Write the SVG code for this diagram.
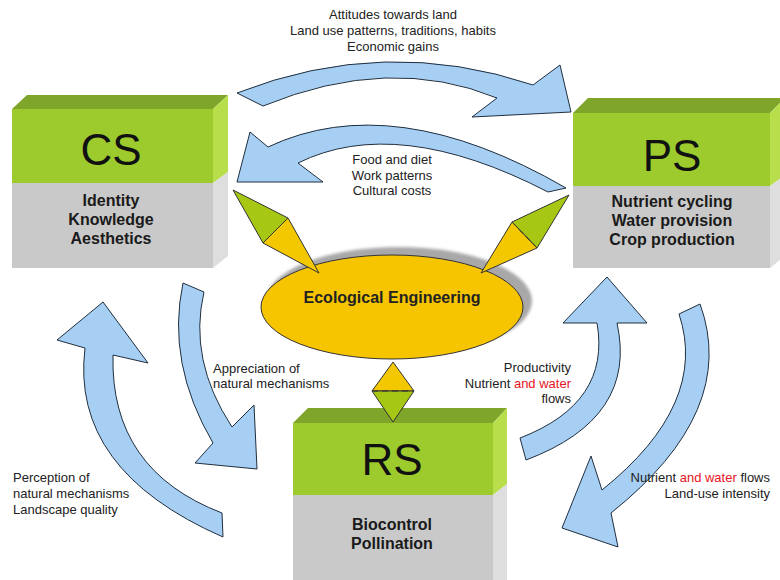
<svg xmlns="http://www.w3.org/2000/svg" width="780" height="580" viewBox="0 0 780 580">
  <defs>
    <style>
      .lbl { font-family: "Liberation Sans", Arial, sans-serif; font-size: 13px; fill: #222; }
      .red { fill: #e8141e; }
      .title { font-family: "Liberation Sans", Arial, sans-serif; font-size: 44px; fill: #111; text-anchor: middle; }
      .item { font-family: "Liberation Sans", Arial, sans-serif; font-size: 16px; font-weight: bold; fill: #1a1a1a; text-anchor: middle; }
      .flow { fill: #a7cff3; stroke: #1f2f3f; stroke-width: 1; stroke-linejoin: miter; }
      .gTop { fill: #7fa52a; }
      .gFront { fill: #9dcb2e; }
      .gSide { fill: #b8de4c; }
      .sFront { fill: #c9c9c9; }
      .sSide { fill: #dedede; }
      .kGreen { fill: #a6c814; stroke: #333; stroke-width: 1; }
      .kGold { fill: #f3c800; stroke: #333; stroke-width: 1; }
      .dash { stroke: #333; stroke-width: 1; stroke-dasharray: 6 4; fill: none; }
    </style>
    <filter id="soft" x="-10%" y="-10%" width="120%" height="120%">
      <feGaussianBlur stdDeviation="1.5"/>
    </filter>
  </defs>

  <rect width="780" height="580" fill="#ffffff"/>

  <!-- flow arrows -->
  <g id="connectors">
    <!-- CS to PS (top) -->
    <path class="flow" d="M237,93 Q385,35 533,85 L560,65 L571,112 L472,117 L497,98 Q390,54 263,106 Z"/>
    <!-- PS to CS -->
    <path class="flow" d="M268,147 Q393,88 566,188 L548,192 Q397,114 298,163 L323,182 L237,182 L250,132 Z"/>
    <!-- CS to RS -->
    <path class="flow" d="M183,283 Q166,363 213,443 L195,463 L257,469 L254,405 L232,427 Q188,360 204,292 Z"/>
    <!-- RS to CS -->
    <path class="flow" d="M85,348 Q70,470 223,537 L222,513 Q110,470 113,355 L148,363 L103,302 L57,340 Z"/>
    <!-- RS to PS -->
    <path class="flow" d="M597,323 Q611,403 520,438 L526,460 Q638,418 617,323 L647,323 L607,277 L563,323 Z"/>
    <!-- PS to RS -->
    <path class="flow" d="M679,314 Q709,404 602,490 L591,456 L562,528 L618,547 L611,513 Q739,411 700,304 Z"/>
  </g>

  <!-- CS box -->
  <g id="cs">
    <polygon class="gTop" points="12,109 27,95 228,95 213,109"/>
    <rect class="gFront" x="12" y="109" width="201" height="74"/>
    <rect class="sFront" x="12" y="183" width="201" height="85"/>
    <polygon class="gSide" points="213,109 228,95 228,172 213,183"/>
    <polygon class="sSide" points="213,183 228,172 228,256 213,268"/>
    <text class="title" x="111" y="165">CS</text>
    <text class="item" x="111" y="206">Identity</text>
    <text class="item" x="111" y="225">Knowledge</text>
    <text class="item" x="111" y="244">Aesthetics</text>
  </g>

  <!-- PS box -->
  <g id="ps">
    <polygon class="gTop" points="573,113 588,98 785,98 770,113"/>
    <rect class="gFront" x="573" y="113" width="197" height="73"/>
    <rect class="sFront" x="573" y="186" width="197" height="82"/>
    <polygon class="gSide" points="770,113 785,98 785,175 770,186"/>
    <polygon class="sSide" points="770,186 785,175 785,256 770,268"/>
    <text class="title" x="672" y="171">PS</text>
    <text class="item" x="672" y="207">Nutrient cycling</text>
    <text class="item red" x="672" y="226">Water provision</text>
    <text class="item" x="672" y="245">Crop production</text>
  </g>

  <!-- RS box -->
  <g id="rs">
    <polygon class="gTop" points="293,423 308,408 507,408 493,423"/>
    <rect class="gFront" x="293" y="423" width="200" height="72"/>
    <rect class="sFront" x="293" y="495" width="200" height="85"/>
    <polygon class="gSide" points="493,423 507,408 507,484 493,495"/>
    <polygon class="sSide" points="493,495 507,484 507,580 493,580"/>
    <text class="title" x="392" y="475">RS</text>
    <text class="item" x="392" y="530">Biocontrol</text>
    <text class="item" x="392" y="549">Pollination</text>
  </g>

  <!-- Ecological Engineering hub -->
  <g id="ee">
    <ellipse cx="399" cy="301" rx="133" ry="54" fill="#a8a8a8" filter="url(#soft)"/>
    <ellipse cx="392" cy="307" rx="131" ry="52" fill="#f7c500" stroke="#333" stroke-width="1"/>
    <text x="392" y="303" text-anchor="middle" font-family="'Liberation Sans', Arial, sans-serif" font-size="16" font-weight="bold" fill="#222">Ecological Engineering</text>
  </g>

  <!-- links from the hub to the boxes -->
  <g id="link-cs">
    <polygon class="kGreen" points="233,190 288,218 263,243"/>
    <polygon class="kGold" points="288,218 319,273 263,243"/>
    <line class="dash" x1="288" y1="218" x2="263" y2="243"/>
  </g>
  <g id="link-ps">
    <polygon class="kGreen" points="569,195 512,222 537,248"/>
    <polygon class="kGold" points="512,222 481,273 537,248"/>
    <line class="dash" x1="512" y1="222" x2="537" y2="248"/>
  </g>
  <g id="link-rs">
    <polygon class="kGold" points="393,362 414,391 372,391"/>
    <polygon class="kGreen" points="372,391 414,391 393,422"/>
    <line class="dash" x1="372" y1="391" x2="414" y2="391"/>
  </g>

  <!-- flow labels -->
  <g id="labels">
    <text class="lbl" text-anchor="middle" x="393" y="19">Attitudes towards land</text>
    <text class="lbl" text-anchor="middle" x="393" y="35">Land use patterns, traditions, habits</text>
    <text class="lbl" text-anchor="middle" x="393" y="51">Economic gains</text>

    <text class="lbl" text-anchor="middle" x="392" y="164">Food and diet</text>
    <text class="lbl" text-anchor="middle" x="392" y="180">Work patterns</text>
    <text class="lbl" text-anchor="middle" x="392" y="195">Cultural costs</text>

    <text class="lbl" x="213" y="373">Appreciation of</text>
    <text class="lbl" x="213" y="388">natural mechanisms</text>

    <text class="lbl" x="13" y="482">Perception of</text>
    <text class="lbl" x="13" y="498">natural mechanisms</text>
    <text class="lbl" x="13" y="514">Landscape quality</text>

    <text class="lbl" text-anchor="end" x="571" y="372">Productivity</text>
    <text class="lbl" text-anchor="end" x="571" y="388">Nutrient <tspan class="red">and water</tspan></text>
    <text class="lbl" text-anchor="end" x="571" y="403">flows</text>

    <text class="lbl" text-anchor="end" x="770" y="482">Nutrient <tspan class="red">and water</tspan> flows</text>
    <text class="lbl" text-anchor="end" x="770" y="498">Land-use intensity</text>
  </g>
</svg>
